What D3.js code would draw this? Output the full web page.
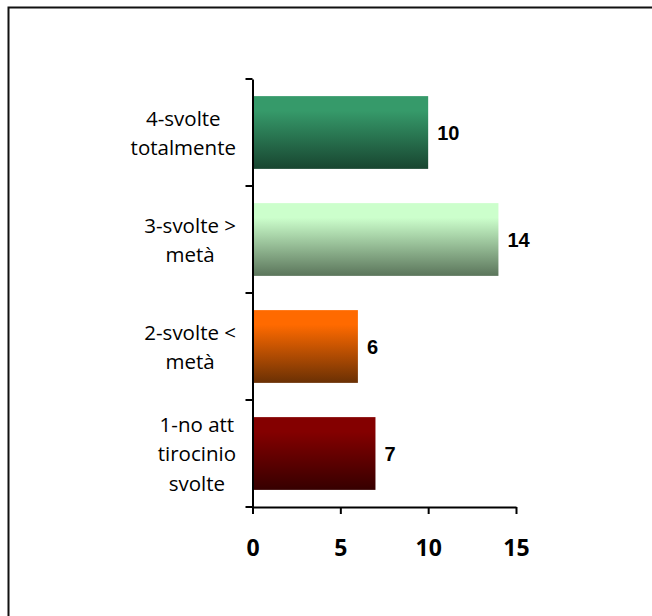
<!DOCTYPE html>
<html>
<head>
<meta charset="utf-8">
<script src="https://cdn.jsdelivr.net/npm/d3@7"></script>
<style>
  html, body { margin: 0; padding: 0; background: #fff; }
  svg { display: block; }
</style>
</head>
<body>
<div id="chart"></div>
<script>
// data, top to bottom as drawn
const categories = ["4-svolte totalmente", "3-svolte > metà", "2-svolte < metà", "1-no att tirocinio svolte"];
const labelLines = [["4-svolte", "totalmente"], ["3-svolte >", "metà"], ["2-svolte <", "metà"], ["1-no att", "tirocinio", "svolte"]];
const values = [10, 14, 6, 7];
const xTicks = [0, 5, 10, 15];
const gradTop = ["#369a6a", "#ccffcc", "#ff6a00", "#840000"];
const gradBottom = ["#184530", "#5b755b", "#6a3004", "#360000"];

const width = 652,
      height = 616;

const svg = d3.select("#chart")
  .append("svg")
    .attr("width", width)
    .attr("height", height);

// outer frame, the right and bottom sides fall outside the picture
svg.append("rect")
  .attr("x", 8.5)
  .attr("y", 7.5)
  .attr("width", 800)
  .attr("height", 800)
  .attr("fill", "none")
  .attr("stroke", "#111")
  .attr("stroke-width", 2);

// scales
const x = d3.scaleLinear()
  .domain([0, 15])
  .range([252.5, 516]);

const y = d3.scaleBand()
  .domain(categories)
  .range([79, 507])
  .paddingInner(0.32)
  .paddingOuter(0.16);

// gradients
const defs = svg.append("defs");
categories.forEach(function(c, i) {
  const g = defs.append("linearGradient")
    .attr("id", "grad" + i)
    .attr("x1", 0).attr("y1", 0)
    .attr("x2", 0).attr("y2", 1);
  g.append("stop").attr("offset", "0%").attr("stop-color", gradTop[i]);
  g.append("stop").attr("offset", "20%").attr("stop-color", gradTop[i]);
  g.append("stop").attr("offset", "100%").attr("stop-color", gradBottom[i]);
});

// bars
svg.append("g")
  .selectAll("rect")
  .data(categories)
  .join("rect")
    .attr("x", x(0))
    .attr("y", function(d) { return y(d); })
    .attr("width", function(d, i) { return x(values[i]) - x(0); })
    .attr("height", y.bandwidth())
    .attr("fill", function(d, i) { return "url(#grad" + i + ")"; });

// value labels
svg.append("g")
  .selectAll("text")
  .data(categories)
  .join("text")
    .attr("x", function(d, i) { return x(values[i]) + 9; })
    .attr("y", function(d) { return y(d) + y.bandwidth() / 2; })
    .attr("dy", "0.35em")
    .style("font-family", "'Liberation Sans', Arial, sans-serif")
    .style("font-weight", "bold")
    .style("font-size", "20px")
    .attr("fill", "#000")
    .text(function(d, i) { return values[i]; });

// x axis
const xAxis = svg.append("g")
  .attr("transform", "translate(0,507)")
  .call(d3.axisBottom(x).tickValues(xTicks).tickSize(7).tickSizeOuter(0).tickPadding(26));
xAxis.select(".domain").attr("stroke", "#000").attr("stroke-width", 2);
xAxis.selectAll(".tick line").attr("stroke", "#000").attr("stroke-width", 2);
xAxis.selectAll(".tick text")
  .style("font-family", "'Open Sans', sans-serif")
  .style("font-weight", "bold")
  .style("font-size", "23px")
  .attr("fill", "#000");

// y axis: line plus ticks on the band edges
const yAxis = svg.append("g")
  .attr("transform", "translate(" + x(0) + ",0)")
  .call(d3.axisLeft(y).tickSize(0).tickFormat("").tickSizeOuter(0));
yAxis.select(".domain").attr("stroke", "#000").attr("stroke-width", 2);
yAxis.selectAll(".tick").remove();

const edges = categories.map(function(d) { return y(d) - y.step() * y.paddingInner() / 2; })
  .concat([y.range()[1]]);
yAxis.selectAll("line.edge")
  .data(edges)
  .join("line")
    .attr("class", "edge")
    .attr("x1", -7).attr("x2", 0)
    .attr("y1", function(d) { return d; })
    .attr("y2", function(d) { return d; })
    .attr("stroke", "#000")
    .attr("stroke-width", 2);

// category labels, wrapped lines centred in a block right aligned to the axis
const lineH = 29.5;
const labels = svg.append("g")
  .selectAll("text")
  .data(categories)
  .join("text")
    .style("font-family", "'Open Sans', sans-serif")
    .style("font-size", "20.5px")
    .attr("fill", "#000")
    .attr("text-anchor", "middle");

labels.each(function(d, i) {
  const t = d3.select(this);
  const lines = labelLines[i];
  const cy = y(d) + y.bandwidth() / 2;
  lines.forEach(function(s, k) {
    t.append("tspan")
      .attr("y", cy + (k - (lines.length - 1) / 2) * lineH)
      .attr("dy", "0.38em")
      .text(s);
  });
  let maxW = 0;
  t.selectAll("tspan").each(function() {
    maxW = Math.max(maxW, this.getComputedTextLength());
  });
  t.selectAll("tspan").attr("x", 236 - maxW / 2);
});
</script>
</body>
</html>
